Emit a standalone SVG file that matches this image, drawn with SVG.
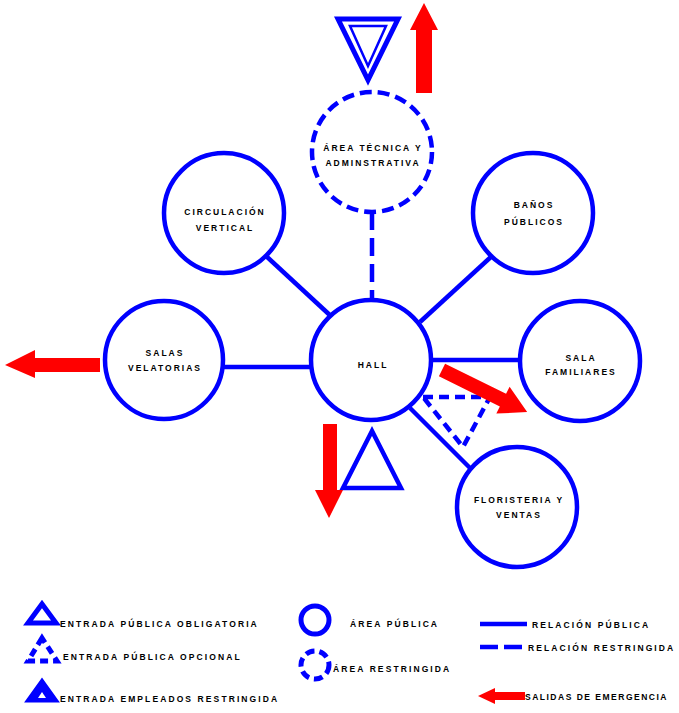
<svg xmlns="http://www.w3.org/2000/svg" width="679" height="713" viewBox="0 0 679 713">
<style>
.c{fill:#fff;stroke:#0000ff;stroke-width:4.5}
.d{fill:#fff;stroke:#0000ff;stroke-width:4.5;stroke-dasharray:12 6}
.l{stroke:#0000ff;stroke-width:4.5;fill:none}
.ld{stroke:#0000ff;stroke-width:4.5;fill:none;stroke-dasharray:18 8}
.t{font-family:"Liberation Sans",Arial,sans-serif;font-weight:bold;font-size:8.5px;letter-spacing:2px;fill:#000;text-anchor:middle}
.g{font-family:"Liberation Sans",Arial,sans-serif;font-weight:bold;font-size:8.5px;letter-spacing:2.1px;fill:#000}
.r{fill:#ff0000}
</style>
<rect width="679" height="713" fill="#fff"/>
<g id="connectors">
<line class="l" x1="265" y1="255" x2="333" y2="318"/>
<line class="ld" x1="372" y1="212" x2="372" y2="300"/>
<line class="l" x1="493" y1="255" x2="420" y2="322"/>
<line class="l" x1="223" y1="367" x2="312" y2="367"/>
<line class="l" x1="431" y1="360" x2="520" y2="360"/>
<line class="l" x1="410" y1="408" x2="472" y2="470"/>
</g>
<g id="area-tecnica">
<circle class="d" cx="372" cy="152" r="60"/>
<text class="t" x="373" y="151">ÁREA TÉCNICA Y</text>
<text class="t" x="373" y="166">ADMINSTRATIVA</text>
</g>
<g id="circulacion">
<circle class="c" cx="224" cy="213" r="60"/>
<text class="t" x="225" y="215">CIRCULACIÓN</text>
<text class="t" x="225" y="231">VERTICAL</text>
</g>
<g id="banos">
<circle class="c" cx="533" cy="213" r="60"/>
<text class="t" x="534" y="208">BAÑOS</text>
<text class="t" x="534" y="225">PÚBLICOS</text>
</g>
<g id="salas-velatorias">
<circle class="c" cx="164" cy="360" r="59"/>
<text class="t" x="165" y="356">SALAS</text>
<text class="t" x="165" y="371">VELATORIAS</text>
</g>
<g id="hall">
<circle class="c" cx="371" cy="360" r="60"/>
<text class="t" x="373" y="368">HALL</text>
</g>
<g id="sala-familiares">
<circle class="c" cx="580" cy="361" r="60"/>
<text class="t" x="581" y="361">SALA</text>
<text class="t" x="581" y="375">FAMILIARES</text>
</g>
<g id="floristeria">
<circle class="c" cx="517" cy="507" r="60"/>
<text class="t" x="519" y="503">FLORISTERIA Y</text>
<text class="t" x="519" y="518">VENTAS</text>
</g>
<g id="entrada-opcional">
<polygon class="ld" points="423,397 490,397 463,447" style="stroke-dasharray:10 6"/>
</g>
<g id="entrada-obligatoria">
<polygon class="l" points="372,431 343,488 401,488"/>
</g>
<g id="entrada-empleados">
<polygon class="l" points="338,19 398,19 368,80" style="stroke-width:5"/>
<polygon class="l" points="350,26 386,26 368,66" style="stroke-width:2.5"/>
</g>
<g id="salidas">
<polygon class="r" points="424,3 438,30 432,30 432,93 416,93 416,30 410,30"/>
<polygon class="r" points="5,365 35,350 35,358 100,358 100,372 35,372 35,378"/>
<polygon class="r" points="323,424 337,424 337,490 343,490 329,518 315,490 323,490"/>
<polygon class="r" transform="translate(442,370) rotate(26.3)" points="0,-7 68,-7 68,-15 95,0 68,15 68,7 0,7"/>
</g>
<g id="legend">
<polygon class="l" points="42,604 28,623 56,623" style="stroke-width:5"/>
<text class="g" x="60" y="627">ENTRADA PÚBLICA OBLIGATORIA</text>
<polygon class="l" points="42,638 28,661 57,661" style="stroke-width:5;stroke-dasharray:8 5"/>
<text class="g" x="63" y="660">ENTRADA PÚBLICA OPCIONAL</text>
<polygon points="42,680 27,701 57,701" fill="#0000ff" stroke="#0000ff" stroke-width="3"/>
<polygon points="42,692 38,698 46,698" fill="#fff"/>
<text class="g" x="60" y="702">ENTRADA EMPLEADOS RESTRINGIDA</text>
<circle class="c" cx="315" cy="620" r="14" style="stroke-width:5"/>
<text class="g" x="350" y="627">ÁREA PÚBLICA</text>
<circle class="d" cx="315" cy="665" r="14" style="stroke-width:5;stroke-dasharray:9 5"/>
<text class="g" x="333" y="672">ÁREA RESTRINGIDA</text>
<line class="l" x1="480" y1="624" x2="527" y2="624"/>
<text class="g" x="532" y="628">RELACIÓN PÚBLICA</text>
<line class="l" x1="480" y1="647" x2="527" y2="647" style="stroke-dasharray:18 6"/>
<text class="g" x="528" y="651">RELACIÓN RESTRINGIDA</text>
<polygon class="r" points="478,696 495,688 495,692 525,692 525,700 495,700 495,704"/>
<text class="g" x="525" y="700" style="letter-spacing:1.5px">SALIDAS DE EMERGENCIA</text>
</g>
</svg>
